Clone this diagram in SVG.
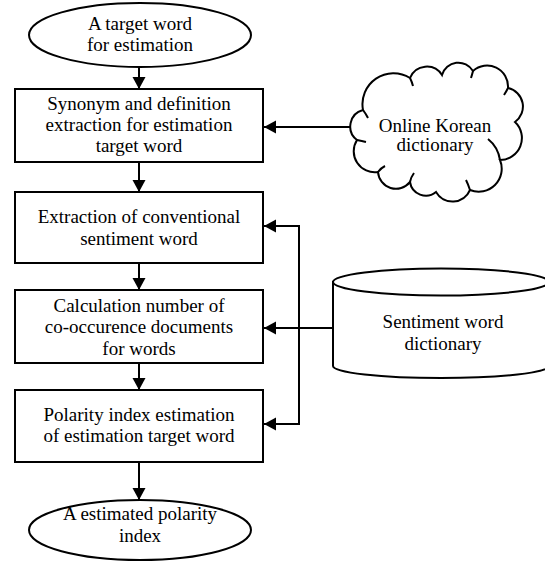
<svg xmlns="http://www.w3.org/2000/svg" width="545" height="561" viewBox="0 0 545 561" font-family="'Liberation Serif', 'Times New Roman', Times, 'DejaVu Serif', serif">
<defs>
<style>
.sh{fill:#fff;stroke:#000;stroke-width:2}
.ln{fill:none;stroke:#000;stroke-width:2}
.tx{font-family:'Liberation Serif', 'Times New Roman', Times, 'DejaVu Serif', serif;font-size:19px;fill:#000;text-anchor:middle}
</style>
<marker id="ah" markerUnits="userSpaceOnUse" markerWidth="13" markerHeight="14" refX="12" refY="7" orient="auto">
<path d="M0,0.5 L12,7 L0,13.5 z" fill="#000"/>
</marker>
</defs>
<rect width="545" height="561" fill="#fff"/>
<g id="connectors">
<line class="ln" x1="139" y1="67" x2="139" y2="89" marker-end="url(#ah)"/>
<line class="ln" x1="139" y1="162" x2="139" y2="192" marker-end="url(#ah)"/>
<line class="ln" x1="139" y1="263" x2="139" y2="290" marker-end="url(#ah)"/>
<line class="ln" x1="139" y1="363" x2="139" y2="390" marker-end="url(#ah)"/>
<line class="ln" x1="139" y1="462" x2="139" y2="500" marker-end="url(#ah)"/>
<line class="ln" x1="352" y1="127" x2="264" y2="127" marker-end="url(#ah)"/>
<line class="ln" x1="333" y1="328" x2="264" y2="328" marker-end="url(#ah)"/>
<polyline class="ln" points="299,226 299,424"/>
<line class="ln" x1="300" y1="226" x2="264" y2="226" marker-end="url(#ah)"/>
<line class="ln" x1="300" y1="424" x2="264" y2="424" marker-end="url(#ah)"/>
</g>
<g id="start">
<ellipse class="sh" cx="140" cy="35" rx="111" ry="32"/>
<text class="tx" font-family="Liberation Serif, serif" x="140" y="30">A target word</text>
<text class="tx" font-family="Liberation Serif, serif" x="140" y="51">for estimation</text>
</g>
<g id="synonym">
<rect class="sh" x="15" y="89" width="248" height="73"/>
<text class="tx" font-family="Liberation Serif, serif" x="139" y="110">Synonym and definition</text>
<text class="tx" font-family="Liberation Serif, serif" x="139" y="131">extraction for estimation</text>
<text class="tx" font-family="Liberation Serif, serif" x="139" y="152">target word</text>
</g>
<g id="extraction">
<rect class="sh" x="15" y="192" width="248" height="71"/>
<text class="tx" font-family="Liberation Serif, serif" x="139" y="223">Extraction of conventional</text>
<text class="tx" font-family="Liberation Serif, serif" x="139" y="245">sentiment word</text>
</g>
<g id="calculation">
<rect class="sh" x="15" y="290" width="248" height="73"/>
<text class="tx" font-family="Liberation Serif, serif" x="139" y="312">Calculation number of</text>
<text class="tx" font-family="Liberation Serif, serif" x="139" y="333">co-occurence documents</text>
<text class="tx" font-family="Liberation Serif, serif" x="139" y="355">for words</text>
</g>
<g id="polarity">
<rect class="sh" x="15" y="390" width="248" height="72"/>
<text class="tx" font-family="Liberation Serif, serif" x="139" y="421">Polarity index estimation</text>
<text class="tx" font-family="Liberation Serif, serif" x="139" y="442">of estimation target word</text>
</g>
<g id="end">
<ellipse class="sh" cx="140" cy="530" rx="111" ry="30"/>
<text class="tx" font-family="Liberation Serif, serif" x="140" y="520">A estimated polarity</text>
<text class="tx" font-family="Liberation Serif, serif" x="140" y="542">index</text>
</g>
<g id="online-dictionary">
<path class="sh" d="M363,110 A31,31 0 0 1 410,78 A18,18 0 0 1 442,75 A17,17 0 0 1 473,71 A21,21 0 0 1 508,88 A19,19 0 0 1 515,122 A22,22 0 0 1 500,160 A23,23 0 0 1 470,190 A19,19 0 0 1 436,192 A16,16 0 0 1 410,182 A18,18 0 0 1 378,172 A21,21 0 0 1 357,140 A17,17 0 0 1 363,110 Z"/>
<path class="ln" d="M363,110 Q366,114 368,118 M410,78 Q412,82 413,86 M473,71 Q472,75 471,78 M508,88 Q506,92 504,95 M488,139 Q498,147 500,160 M470,190 Q468,184 466,180 M410,182 Q411,177 414,173 M378,172 Q381,168 385,166 M357,140 Q362,141 366,142"/>
<text class="tx" font-family="Liberation Serif, serif" x="435" y="132">Online Korean</text>
<text class="tx" font-family="Liberation Serif, serif" x="435" y="151">dictionary</text>
</g>
<g id="sentiment-dictionary">
<path class="sh" d="M333,282 L333,366 A108,12 0 0 0 549,366 L549,282 Z"/>
<ellipse class="sh" cx="441" cy="282" rx="108" ry="13.5"/>
<text class="tx" font-family="Liberation Serif, serif" x="443" y="328">Sentiment word</text>
<text class="tx" font-family="Liberation Serif, serif" x="443" y="350">dictionary</text>
</g>
</svg>
